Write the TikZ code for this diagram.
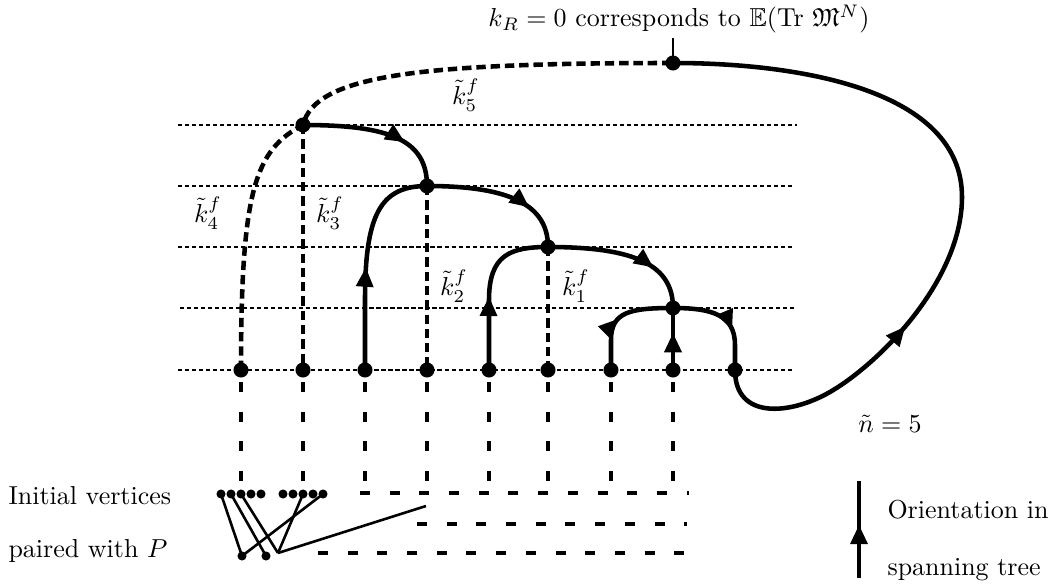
\documentclass[tikz,border=0pt]{standalone}
\usepackage{amssymb}
\usetikzlibrary{arrows.meta,decorations.markings}
\tikzset{
  guide/.style={line width=0.4pt, dash pattern=on 1.6pt off 1.1pt},
  tree/.style={line width=1.75pt},
  loopdash/.style={line width=1.75pt, dash pattern=on 3.6pt off 1.9pt},
  pairdash/.style={line width=1.9pt, dash pattern=on 3.85pt off 7.58pt},
  dot/.style={circle, fill, inner sep=0pt, minimum size=5.8pt},
  smalldot/.style={circle, fill, inner sep=0pt, minimum size=3.5pt},
  pairline/.style={line width=1pt},
  midarrow/.style={postaction={decorate}, decoration={markings, mark=at position #1 with {\arrow{Triangle[length=7.5pt,width=6.4pt]}}}},
  lab/.style={inner sep=0pt},
}
\begin{document}
\begin{tikzpicture}[x=0.385pt,y=-0.385pt]
\useasboundingbox (0,0) rectangle (1054,588);
% guide lines
\draw[guide] (178,125) -- (797,125);
\draw[guide] (178,186) -- (795,186);
\draw[guide] (178,247) -- (793,247);
\draw[guide] (180,308) -- (795,308);
\draw[guide] (178,370) -- (793,370);
% vertices
\node[dot] (r) at (673,63) {};
\node[dot] (v4) at (303,125) {};
\node[dot] (v3) at (427,186) {};
\node[dot] (v2) at (548,247) {};
\node[dot] (v1) at (673,308) {};
\node[dot] (b1) at (241,370) {};
\node[dot] (b2) at (303,370) {};
\node[dot] (b3) at (365,370) {};
\node[dot] (b4) at (427,370) {};
\node[dot] (b5) at (489,370) {};
\node[dot] (b6) at (548,370) {};
\node[dot] (b7) at (611,370) {};
\node[dot] (b8) at (673,370) {};
\node[dot] (b9) at (735,370) {};
\coordinate (k3) at (365,300);
\coordinate (k5) at (489,300);
\coordinate (k7) at (611,340);
\coordinate (k9) at (735,345);
\coordinate (l1) at (830,392);
\coordinate (l2) at (962,197);
\coordinate (tick) at (673,38);
% dashed edges
\draw[loopdash] (b1.center) .. controls +(0,-180) and +(-48,25) .. (v4.center) .. controls +(12,-50) and +(-253,0) .. (r.center);
\draw[loopdash] (v4.center) -- (b2.center);
\draw[loopdash] (v3.center) -- (b4.center);
\draw[loopdash] (v2.center) -- (b6.center);
% spanning tree
\draw[tree, midarrow=0.67] (v4.center) .. controls +(87,0) and +(0,-46) .. (v3.center);
\draw[tree, midarrow=0.47] (b3.center) -- (k3) .. controls +(0,-85) and +(-47,0) .. (v3.center);
\draw[tree, midarrow=0.7] (v3.center) .. controls +(83,0) and +(0,-42) .. (v2.center);
\draw[tree, midarrow=0.45] (b5.center) -- (k5) .. controls +(0,-45) and +(-38,0) .. (v2.center);
\draw[tree, midarrow=0.7] (v2.center) .. controls +(87,0) and +(0,-43) .. (v1.center);
\draw[tree, midarrow=0.48] (b7.center) -- (k7) .. controls +(0,-28) and +(-43,0) .. (v1.center);
\draw[tree, midarrow=0.6] (b8.center) -- (v1.center);
\draw[tree, midarrow=0.62] (v1.center) .. controls +(39,0) and +(0,-30) .. (k9) -- (b9.center);
\draw[tree, midarrow=0.31] (b9.center) .. controls +(0,50) and +(-40,23) .. (l1) .. controls +(50,-29) and +(0,83) .. (l2) .. controls +(0,-107) and +(127,0) .. (r.center);
\draw[line width=0.5pt] (r.center) -- (tick);
% labels
\node[lab, anchor=base] (top) at (679,27) {$k_R=0$ corresponds to $\mathbb{E}(\mathrm{Tr}\ \mathfrak{M}^N)$};
\node[lab] (k5l) at (466,95) {$\tilde{k}^f_5$};
\node[lab] (k4l) at (208,213) {$\tilde{k}^f_4$};
\node[lab] (k3l) at (330,213) {$\tilde{k}^f_3$};
\node[lab] (k2l) at (454,286) {$\tilde{k}^f_2$};
\node[lab] (k1l) at (576,286) {$\tilde{k}^f_1$};
\node[lab] (nl) at (890,424) {$\tilde n = 5$};
% initial vertices
\node[smalldot] (g1) at (221,494) {};
\node[smalldot] (g2) at (231,494) {};
\node[smalldot] (g3) at (241,494) {};
\node[smalldot] (g4) at (251,494) {};
\node[smalldot] (g5) at (261,494) {};
\node[smalldot] (g6) at (283,494) {};
\node[smalldot] (g7) at (293,494) {};
\node[smalldot] (g8) at (303,494) {};
\node[smalldot] (g9) at (313,494) {};
\node[smalldot] (g10) at (323,494) {};
\node[smalldot] (p1) at (242,556) {};
\node[smalldot] (p2) at (266,556) {};
\coordinate (j) at (278,553);
\coordinate (je) at (426,506);
\draw[pairline] (g1.center) -- (p1.center);
\draw[pairline] (g2.center) -- (p2.center);
\draw[pairline] (g3.center) -- (j);
\draw[pairline] (g8.center) -- (j);
\draw[pairline] (g10.center) -- (p1.center);
\draw[pairline] (j) -- (je);
% pairing dashes
\coordinate (e3) at (365,482);
\coordinate (e4) at (427,482);
\coordinate (e5) at (489,482);
\coordinate (e6) at (548,482);
\coordinate (e7) at (611,482);
\coordinate (e8) at (673,482);
\draw[pairdash, dash phase=6.8pt] (b1.center) -- (g3.center);
\draw[pairdash, dash phase=6.8pt] (b2.center) -- (g8.center);
\draw[pairdash, dash phase=6.8pt] (b3.center) -- (e3);
\draw[pairdash, dash phase=6.8pt] (b4.center) -- (e4);
\draw[pairdash, dash phase=6.8pt] (b5.center) -- (e5);
\draw[pairdash, dash phase=6.8pt] (b6.center) -- (e6);
\draw[pairdash, dash phase=6.8pt] (b7.center) -- (e7);
\draw[pairdash, dash phase=6.8pt] (b8.center) -- (e8);
\coordinate (ra1) at (360,493);
\coordinate (ra2) at (689,493);
\coordinate (rb1) at (417,524);
\coordinate (rb2) at (687,524);
\coordinate (rc1) at (318,553);
\coordinate (rc2) at (685,553);
\draw[pairdash] (ra1) -- (ra2);
\draw[pairdash] (rb1) -- (rb2);
\draw[pairdash] (rc1) -- (rc2);
\node[lab, anchor=base west] (iv) at (8,504) {Initial vertices};
\node[lab, anchor=base west] (pw) at (8,557) {paired with $P$};
% legend
\coordinate (lgt) at (859,481);
\coordinate (lgb) at (859,578);
\draw[tree, midarrow=0.55] (lgb) -- (lgt);
\node[lab, anchor=base west] (or1) at (887,518) {Orientation in};
\node[lab, anchor=base west] (or2) at (887,575) {spanning tree};
\end{tikzpicture}
\end{document}
